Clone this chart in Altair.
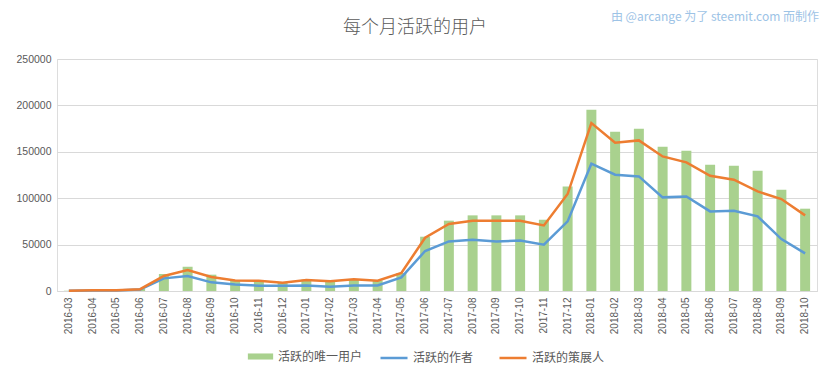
import altair as alt
import pandas as pd

months = [
    "2016-03", "2016-04", "2016-05", "2016-06", "2016-07", "2016-08", "2016-09", "2016-10",
    "2016-11", "2016-12", "2017-01", "2017-02", "2017-03", "2017-04", "2017-05", "2017-06",
    "2017-07", "2017-08", "2017-09", "2017-10", "2017-11", "2017-12", "2018-01", "2018-02",
    "2018-03", "2018-04", "2018-05", "2018-06", "2018-07", "2018-08", "2018-09", "2018-10",
]
unique_users = [
    300, 800, 900, 2200, 18300, 26200, 17600, 11500,
    11200, 9200, 12200, 10400, 12900, 11400, 19400, 58500,
    75800, 81500, 81500, 81500, 76800, 112700, 195400, 171700,
    174900, 155500, 151200, 136100, 135000, 129600, 109200, 88700,
]
authors = [
    200, 500, 600, 1500, 13600, 16200, 9300, 7100,
    5700, 5700, 6000, 4600, 6000, 6000, 14700, 43100,
    53400, 55300, 53400, 54400, 49900, 75000, 137200, 125300,
    123500, 100900, 101900, 85800, 86500, 80400, 56000, 40500,
]
curators = [
    300, 700, 800, 2000, 16200, 22600, 15100, 11400,
    11100, 8900, 11800, 10400, 12600, 11100, 19400, 57400,
    72200, 75800, 75800, 75800, 70700, 104500, 181000, 159800,
    162300, 145000, 138600, 124200, 119900, 107300, 99100, 81500,
]

s_bar = "活跃的唯一用户"
s_auth = "活跃的作者"
s_cur = "活跃的策展人"
title_text = "每个月活跃的用户"
credit_text = "由 @arcange 为了 steemit.com 而制作"

bar_df = pd.DataFrame({"month": months, "value": unique_users, "series": s_bar})
line_df = pd.concat([
    pd.DataFrame({"month": months, "value": authors, "series": s_auth}),
    pd.DataFrame({"month": months, "value": curators, "series": s_cur}),
])

GRAY = "#595959"
FONT = "Liberation Sans"
CJK = "Noto Sans CJK SC"

x_enc = alt.X(
    "month:N", sort=months, title=None,
    scale=alt.Scale(paddingInner=0, paddingOuter=0),
    axis=alt.Axis(labelAngle=-90, labelFontSize=10, labelFont=FONT, labelColor=GRAY,
                  ticks=False, domain=True, domainColor="#d9d9d9", grid=False,
                  labelPadding=6),
)
y_enc = alt.Y(
    "value:Q", title=None,
    scale=alt.Scale(domain=[0, 250000], nice=False),
    axis=alt.Axis(values=[0, 50000, 100000, 150000, 200000, 250000], format="d",
                  labelFontSize=10.5, labelFont=FONT, labelColor=GRAY,
                  ticks=False, domain=False, gridColor="#d9d9d9", labelPadding=6),
)

bars = alt.Chart(bar_df).mark_bar(width=alt.RelativeBandSize(0.42)).encode(
    x=x_enc,
    y=y_enc,
    color=alt.Color(
        "series:N",
        scale=alt.Scale(domain=[s_bar], range=["#a9d18e"]),
        legend=alt.Legend(
            title=None, orient="none", legendX=190, legendY=284,
            symbolType="M-1,-0.24H1V0.24H-1Z", symbolSize=640,
            labelFont=CJK, labelFontSize=12, labelColor=GRAY,
            symbolOpacity=1,
        ),
    ),
)

lines = alt.Chart(line_df).mark_line(strokeWidth=2.5).encode(
    x=alt.X("month:N", sort=months, bandPosition=0.5),
    y="value:Q",
    stroke=alt.Stroke(
        "series:N",
        scale=alt.Scale(domain=[s_auth, s_cur], range=["#5b9bd5", "#ed7d31"]),
        legend=alt.Legend(
            title=None, orient="none", legendX=322, legendY=284,
            direction="horizontal", columnPadding=20,
            symbolType="stroke", symbolSize=730, symbolStrokeWidth=2.5,
            labelFont=CJK, labelFontSize=12, labelColor=GRAY,
        ),
    ),
)

credit = alt.Chart(pd.DataFrame({"t": [credit_text]})).mark_text(
    align="right", baseline="middle", font=CJK, fontSize=12, color="#9dc3e6"
).encode(text="t:N", x=alt.value(762), y=alt.value(-42))

title = alt.Chart(pd.DataFrame({"t": [title_text]})).mark_text(
    align="center", baseline="middle", font=CJK, fontSize=18, fontWeight=300, color=GRAY
).encode(text="t:N", x=alt.value(358), y=alt.value(-31))

chart = alt.layer(bars, lines, credit, title).resolve_scale(
    color="independent", stroke="independent"
).properties(
    width=760,
    height=232,
    autosize=alt.AutoSizeParams(type="none"),
    padding={"left": 49, "top": 51, "right": 8, "bottom": 80},
).configure_view(stroke=None).configure(background="white")

chart.save("out.html", embed_options={"renderer": "svg", "actions": False})
